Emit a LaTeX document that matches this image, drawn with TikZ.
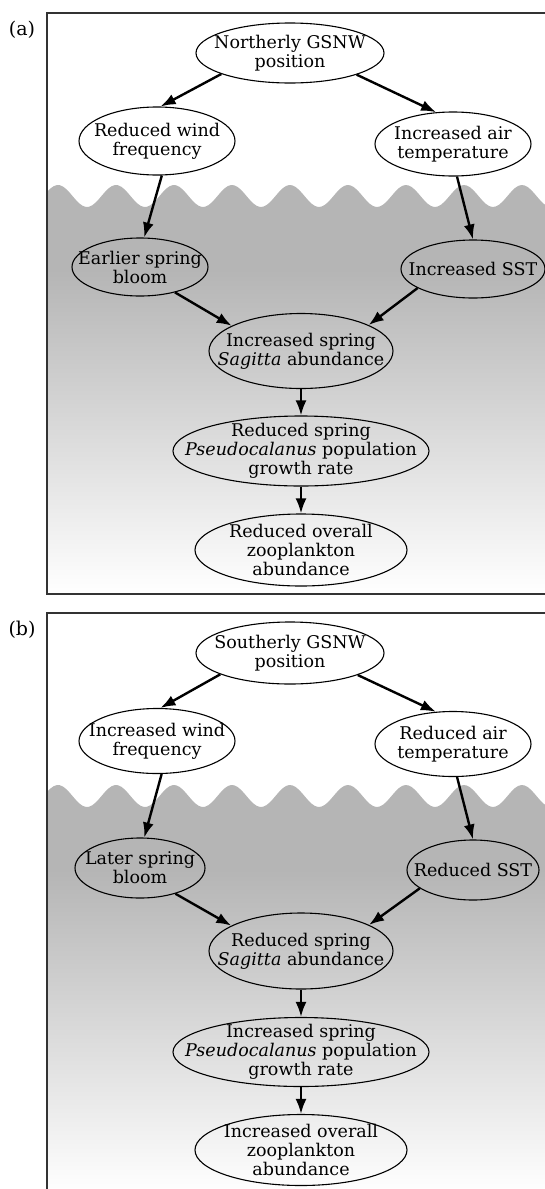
\documentclass[tikz,border=0pt]{standalone}
\usepackage{fontspec}
\setmainfont{DejaVu Serif}
\usetikzlibrary{arrows.meta,shapes.geometric}

\begin{document}
\begin{tikzpicture}[x=1pt, y=-1pt,
  ev/.style={ellipse, draw, line width=1.1pt, align=center,
             inner xsep=-30pt, inner ysep=-10pt,
             font=\fontsize{17.5}{19}\selectfont},
  arr/.style={-{Latex[length=15pt,width=11pt]}, line width=2.4pt},
  frame/.style={draw=black!80, line width=1.3pt},
  tag/.style={font=\fontsize{19}{19}\selectfont}
]
\useasboundingbox (0,0) rectangle (545,1189);
\clip (0,0) rectangle (545,1189);

% panel (a)
\fill[gray!58] (47,594) -- plot[domain=47:560, samples=160]
  (\x,{196-11*cos(6.2069*(\x-58))}) -- (560,594) -- cycle;
\shade[top color=gray!58, bottom color=white] (47,270) rectangle (560,594);
\draw[frame] (47,13) rectangle (560,594);
\node[tag] (tagA) at (22,30) {(a)};

\node[ev, minimum width=188pt, minimum height=60pt] (gsnwA) at (290,53) {Northerly GSNW\\position};
\node[ev, minimum width=156pt, minimum height=68pt] (windA) at (157,141) {Reduced wind\\frequency};
\node[ev, minimum width=156pt, minimum height=64pt] (airA) at (453,144) {Increased air\\temperature};
\node[ev, minimum width=136pt, minimum height=58pt] (bloomA) at (140,267) {Earlier spring\\bloom};
\node[ev, minimum width=144pt, minimum height=58pt] (sstA) at (473,269) {Increased SST};
\node[ev, minimum width=184pt, minimum height=75pt] (sagA) at (301,351) {Increased spring\\\textit{Sagitta} abundance};
\node[ev, minimum width=256pt, minimum height=70pt] (pseudoA) at (301,451) {Reduced spring\\\textit{Pseudocalanus} population\\growth rate};
\node[ev, minimum width=212pt, minimum height=72pt] (zooA) at (301,550) {Reduced overall\\zooplankton\\abundance};

\draw[arr] (gsnwA.197) -- (windA.84);
\draw[arr] (gsnwA.342) -- (airA.118);
\draw[arr] (windA.278) -- (bloomA.82);
\draw[arr] (airA.277) -- (sstA.90);
\draw[arr] (bloomA.324) -- (sagA.160);
\draw[arr] (sstA.199) -- (sagA.21);
\draw[arr] (sagA) -- (pseudoA);
\draw[arr] (pseudoA) -- (zooA);

% panel (b)
\begin{scope}[shift={(0,600)}]
\fill[gray!58] (47,594) -- plot[domain=47:560, samples=160]
  (\x,{196-11*cos(6.2069*(\x-58))}) -- (560,594) -- cycle;
\shade[top color=gray!58, bottom color=white] (47,270) rectangle (560,594);
\draw[frame] (47,13) rectangle (560,594);
\node[tag] (tagB) at (22,30) {(b)};

\node[ev, minimum width=188pt, minimum height=62pt] (gsnwB) at (290,53) {Southerly GSNW\\position};
\node[ev, minimum width=156pt, minimum height=65pt] (windB) at (157,141) {Increased wind\\frequency};
\node[ev, minimum width=156pt, minimum height=65pt] (airB) at (453,144) {Reduced air\\temperature};
\node[ev, minimum width=130pt, minimum height=60pt] (bloomB) at (140,268) {Later spring\\bloom};
\node[ev, minimum width=132pt, minimum height=60pt] (sstB) at (473,270) {Reduced SST};
\node[ev, minimum width=184pt, minimum height=76pt] (sagB) at (301,351) {Reduced spring\\\textit{Sagitta} abundance};
\node[ev, minimum width=256pt, minimum height=69pt] (pseudoB) at (301,452) {Increased spring\\\textit{Pseudocalanus} population\\growth rate};
\node[ev, minimum width=212pt, minimum height=71pt] (zooB) at (301,550) {Increased overall\\zooplankton\\abundance};

\draw[arr] (gsnwB.197) -- (windB.84);
\draw[arr] (gsnwB.342) -- (airB.118);
\draw[arr] (windB.278) -- (bloomB.82);
\draw[arr] (airB.277) -- (sstB.90);
\draw[arr] (bloomB.324) -- (sagB.160);
\draw[arr] (sstB.199) -- (sagB.21);
\draw[arr] (sagB) -- (pseudoB);
\draw[arr] (pseudoB) -- (zooB);
\end{scope}
\end{tikzpicture}
\end{document}
